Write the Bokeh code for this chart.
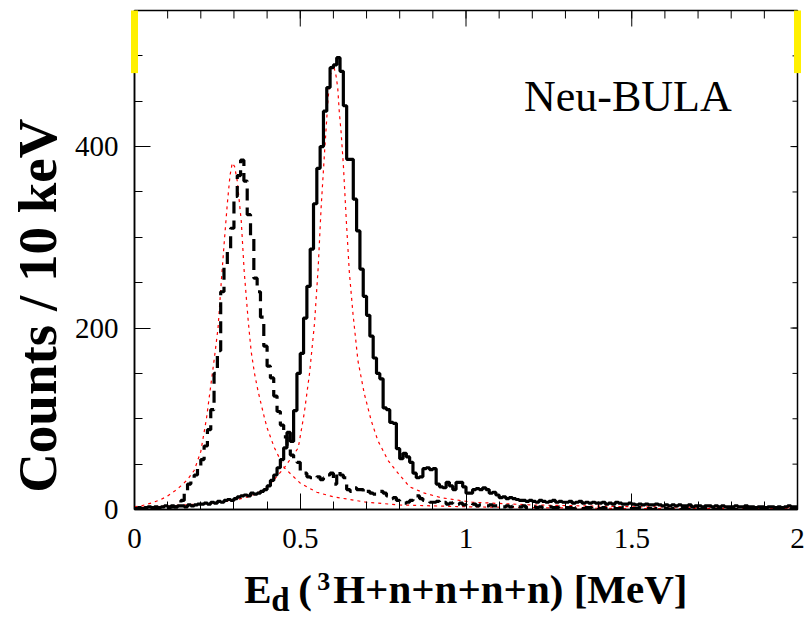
import numpy as np
from bokeh.plotting import figure
from bokeh.layouts import column
from bokeh.models import FixedTicker, Range1d, Title
from bokeh.core.properties import value
from bokeh.embed import file_html
from bokeh.resources import INLINE

# ---------------- data ----------------
bin_width = 0.01
n_bins = 200

# solid histogram (counts / 10 keV)
solid_counts = [
    1, 2, 1, 2, 3, 2, 3, 2, 3, 4,
    3, 4, 3, 4, 4, 3, 5, 4, 5, 6,
    6, 7, 6, 8, 7, 9, 8, 10, 11, 10,
    12, 14, 15, 16, 15, 18, 17, 18, 20, 22,
    26, 32, 38, 46, 55, 68, 85, 75, 109, 150,
    172, 211, 246, 287, 337, 376, 400, 439, 465, 487,
    490, 498, 483, 445, 386, 386, 342, 307, 265, 235,
    214, 191, 167, 150, 144, 112, 110, 96, 95, 67,
    56, 62, 58, 52, 40, 35, 36, 45, 46, 44,
    45, 28, 25, 24, 30, 26, 22, 30, 30, 25,
    18, 18, 22, 23, 22, 24, 22, 18, 19, 16,
    13, 14, 12, 13, 12, 11, 10, 10, 9, 10,
    9, 8, 10, 9, 8, 9, 10, 8, 9, 8,
    8, 9, 7, 8, 9, 7, 8, 7, 8, 7,
    7, 8, 6, 7, 6, 8, 7, 6, 6, 7,
    6, 5, 6, 5, 6, 5, 5, 6, 5, 4,
    5, 4, 5, 4, 5, 4, 4, 5, 3, 4,
    4, 3, 4, 4, 3, 4, 3, 4, 3, 3,
    3, 4, 3, 3, 4, 3, 3, 2, 3, 3,
    2, 3, 3, 2, 3, 2, 3, 4, 3, 3,
]

# dashed histogram (counts / 10 keV)
dashed_counts = [
    0, 0, 1, 0, 1, 1, 0, 1, 1, 2,
    2, 3, 3, 5, 10, 18, 28, 33, 38, 45,
    55, 70, 88, 110, 150, 175, 240, 268, 285, 310,
    345, 368, 385, 362, 325, 300, 255, 240, 212, 180,
    158, 145, 125, 108, 93, 80, 68, 60, 55, 52,
    42, 40, 36, 35, 34, 36, 33, 35, 38, 40,
    28, 42, 38, 35, 22, 20, 24, 22, 22, 18,
    20, 18, 17, 18, 20, 18, 15, 12, 13, 10,
    9, 7, 8, 10, 13, 15, 12, 10, 9, 8,
    8, 9, 7, 8, 6, 7, 8, 6, 7, 5,
    6, 5, 6, 4, 5, 5, 4, 5, 4, 4,
    4, 3, 4, 3, 4, 3, 3, 4, 2, 3,
    3, 2, 3, 2, 2, 3, 2, 2, 3, 2,
    2, 2, 1, 2, 2, 1, 2, 2, 1, 2,
    1, 2, 1, 1, 2, 1, 1, 2, 1, 1,
    1, 1, 2, 1, 1, 1, 0, 1, 1, 1,
    1, 0, 1, 1, 0, 1, 1, 0, 1, 1,
    0, 1, 1, 0, 1, 0, 1, 1, 0, 1,
    1, 0, 1, 0, 1, 1, 0, 1, 0, 1,
    0, 1, 0, 1, 0, 1, 1, 0, 1, 0,
]

# red dotted fit curve, low-energy peak
fitA_x = [0.0, 0.02, 0.05, 0.08, 0.10, 0.12, 0.14, 0.16, 0.18, 0.20, 0.217, 0.232,
          0.241, 0.252, 0.262, 0.271, 0.28, 0.288, 0.295, 0.302, 0.31, 0.322, 0.331,
          0.343, 0.352, 0.362, 0.373, 0.392, 0.40, 0.422, 0.452, 0.50, 0.55, 0.60,
          0.70, 0.80, 0.90, 1.0, 1.2, 1.5, 2.0]
fitA_y = [3, 4, 7, 11, 15, 20, 26, 33, 43, 64, 100, 142,
          167, 200, 252, 296, 337, 368, 382, 378, 362, 318, 262,
          208, 174, 150, 130, 101, 90, 68, 46, 29, 19, 14,
          8, 5, 4, 3, 2, 1, 1]

# red dotted fit curve, high-energy peak
fitB_x = [0.0, 0.1, 0.2, 0.3, 0.352, 0.40, 0.452, 0.494, 0.512, 0.528, 0.543, 0.554,
          0.563, 0.573, 0.583, 0.59, 0.60, 0.608, 0.613, 0.618, 0.623, 0.63, 0.639,
          0.648, 0.659, 0.674, 0.693, 0.714, 0.734, 0.765, 0.795, 0.83, 0.875, 0.925,
          1.02, 1.2, 1.5, 2.0]
fitB_y = [2, 4, 6, 10, 15, 24, 46, 68, 106, 150, 205, 266,
          333, 392, 448, 478, 490, 478, 465, 437, 417, 380, 318,
          262, 216, 164, 128, 98, 76, 54, 40, 25, 18, 13,
          8, 5, 3, 2]

x_major = [0, 0.5, 1, 1.5, 2]
x_labels = ["0", "0.5", "1", "1.5", "2"]
x_minor = [round(0.1 * i, 1) for i in range(21)]
y_major = [0, 200, 400]
y_labels = ["0", "200", "400"]
y_minor = [50 * i for i in range(12)]

# ---------------- geometry ----------------
SERIF = "Liberation Serif"
X0, X1, Y0, Y1 = 0, 2, 0, 550
FRAME_W, FRAME_H = 664, 499
px_x = FRAME_W / (X1 - X0)      # pixels per MeV
px_y = FRAME_H / (Y1 - Y0)      # pixels per count

p = figure(width=809, height=566, x_range=Range1d(X0, X1), y_range=Range1d(Y0, Y1),
           output_backend="svg", toolbar_location=None, title=None,
           min_border_left=133, min_border_right=12, min_border_top=10, min_border_bottom=57)
p.xgrid.visible = False
p.ygrid.visible = False
p.outline_line_color = "black"
p.outline_line_width = 1.5
p.background_fill_color = "white"
p.border_fill_color = "white"


def style_axis(ax, standoff):
    ax.axis_line_color = "black"
    ax.axis_line_width = 1.5
    ax.major_tick_line_color = "black"
    ax.minor_tick_line_color = "black"
    ax.major_tick_line_width = 1
    ax.minor_tick_line_width = 1
    ax.major_tick_in = 16
    ax.major_tick_out = 0
    ax.minor_tick_in = 8
    ax.minor_tick_out = 0
    ax.major_label_text_font = SERIF
    ax.major_label_text_font_size = "29px"
    ax.major_label_text_color = "black"
    ax.major_label_standoff = standoff


xb = p.xaxis[0]
xb.ticker = FixedTicker(ticks=x_major, minor_ticks=x_minor)
xb.major_label_overrides = {v: s for v, s in zip(x_major, x_labels)}
style_axis(xb, 19)

yl = p.yaxis[0]
yl.ticker = FixedTicker(ticks=y_major, minor_ticks=y_minor)
yl.major_label_overrides = {v: s for v, s in zip(y_major, y_labels)}
style_axis(yl, 16)

# y axis title, aligned towards the top end like the original
p.add_layout(Title(text="Counts / 10 keV", align="right", offset=108,
                   text_font=SERIF, text_font_size="55px", text_font_style="bold",
                   text_color="black", standoff=8), "left")

# mirrored tick marks on the top and right frame edges
p.segment(x0=x_major, y0=[Y1] * len(x_major), x1=x_major, y1=[Y1 - 16 / px_y] * len(x_major),
          line_color="black", line_width=1)
p.segment(x0=x_minor, y0=[Y1] * len(x_minor), x1=x_minor, y1=[Y1 - 8 / px_y] * len(x_minor),
          line_color="black", line_width=1)
p.segment(x0=[X1] * len(y_major), y0=y_major, x1=[X1 - 7 / px_x] * len(y_major), y1=y_major,
          line_color="black", line_width=1)
p.segment(x0=[X1] * len(y_minor), y0=y_minor, x1=[X1 - 5 / px_x] * len(y_minor), y1=y_minor,
          line_color="black", line_width=1)

# ---------------- histograms and fits ----------------
edges = [round(i * bin_width, 2) for i in range(n_bins + 1)]
solid_y = list(solid_counts) + [solid_counts[-1]]
dashed_y = list(dashed_counts) + [dashed_counts[-1]]

p.line(fitA_x, fitA_y, line_color="red", line_width=1.2, line_dash="3 4")
p.line(fitB_x, fitB_y, line_color="red", line_width=1.2, line_dash="3 4")
p.step(edges, dashed_y, mode="after", line_color="black", line_width=3.2, line_dash="12 7")
p.step(edges, solid_y, mode="after", line_color="black", line_width=3.2)

# text baseline lands about 0.38 em lower than asked, so lift it accordingly
p.text(x=[1.175], y=[436 + 17 / px_y], text=["Neu-BULA"], text_font=value(SERIF),
       text_font_size="44px", text_color="black", text_baseline="alphabetic", text_align="left")

# yellow highlight strokes at the top corners (decoration of the original figure)
yl_left = p.line([X0, X0], [481, Y1], line_color="#FFF000", line_width=7)
yl_right = p.line([X1, X1], [481, Y1], line_color="#FFF000", line_width=7)
yl_left.level = "overlay"
yl_right.level = "overlay"

# ---------------- x axis title strip (pixel coordinates, frame aligned with the plot) ----------------
q = figure(width=809, height=53, x_range=Range1d(133, 797), y_range=Range1d(53, 0),
           output_backend="svg", toolbar_location=None, title=None,
           x_axis_type=None, y_axis_type=None, min_border=0)
q.grid.visible = False
q.outline_line_color = None
q.background_fill_color = "white"
q.border_fill_color = "white"


def qtext(x, y, s, size):
    q.text(x=[x], y=[y - 0.40 * size], text=[s], text_font=value(SERIF),
           text_font_size=f"{size}px", text_font_style="bold", text_color="black",
           text_baseline="alphabetic", text_align="left")


qtext(243, 39, "E", 41)
qtext(270, 47, "d", 33)
qtext(297, 39, "(", 41)
qtext(316, 25, "3", 26)
qtext(332, 39, "H+n+n+n+n) [MeV]", 41)

layout = column(p, q, spacing=0)
open("out.html", "w").write(file_html(layout, INLINE))
